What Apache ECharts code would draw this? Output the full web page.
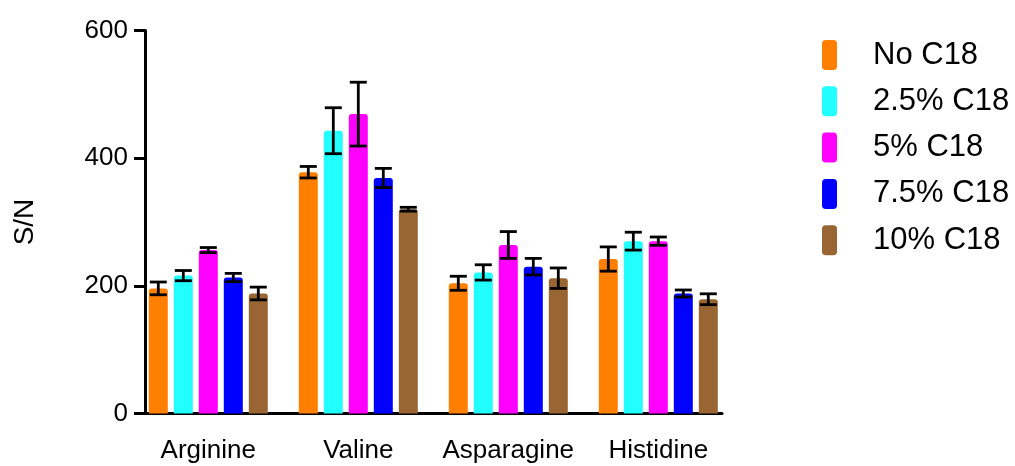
<!DOCTYPE html>
<html>
<head>
<meta charset="utf-8">
<script src="https://cdn.jsdelivr.net/npm/echarts@6/dist/echarts.min.js"></script>
<style>html,body{margin:0;padding:0;background:#fff}#c{width:1015px;height:466px}</style>
</head>
<body>
<div id="c"></div>
<script>
const categories = ['Arginine', 'Valine', 'Asparagine', 'Histidine'];
const seriesNames = ['No C18', '2.5% C18', '5% C18', '7.5% C18', '10% C18'];
const colors = ['#FF8000', '#22FFFF', '#FF00FF', '#0000FF', '#996633'];
const noC18 = [196, 378, 204, 242];
const noC18Err = [10, 9, 11, 19];
const c18_2_5 = [216, 443, 221, 270];
const c18_2_5Err = [8, 36, 12, 14];
const c18_5 = [256, 469, 264, 270];
const c18_5Err = [4, 50, 21, 6.5];
const c18_7_5 = [213, 369, 230, 188];
const c18_7_5Err = [6.5, 15, 13, 5.5];
const c18_10 = [188, 320, 212, 179];
const c18_10Err = [10, 3, 16, 8.5];
const yTicks = [0, 200, 400, 600];

const means = [noC18, c18_2_5, c18_5, c18_7_5, c18_10];
const errs = [noC18Err, c18_2_5Err, c18_5Err, c18_7_5Err, c18_10Err];

const BAR_W = 19, GAP = 6, CAP = 17;
const n = seriesNames.length;
const total = n * BAR_W + (n - 1) * GAP;
const offsets = seriesNames.map((_, i) => -total / 2 + BAR_W / 2 + i * (BAR_W + GAP));
const FONT = "'Liberation Sans', Arial, sans-serif";

function makeErr(si) {
  return function (params, api) {
    const x = api.value(0), m = api.value(1), e = api.value(2);
    const hi = api.coord([x, m + e]);
    const lo = api.coord([x, m - e]);
    const cx = hi[0] + offsets[si];
    const st = { stroke: '#000', lineWidth: 2.8 };
    return {
      type: 'group',
      children: [
        { type: 'line', shape: { x1: cx, y1: hi[1], x2: cx, y2: lo[1] }, style: st },
        { type: 'line', shape: { x1: cx - CAP / 2, y1: hi[1], x2: cx + CAP / 2, y2: hi[1] }, style: st },
        { type: 'line', shape: { x1: cx - CAP / 2, y1: lo[1], x2: cx + CAP / 2, y2: lo[1] }, style: st }
      ]
    };
  };
}

const series = [];
seriesNames.forEach((name, si) => {
  series.push({
    name: name, type: 'bar', xAxisIndex: 0, yAxisIndex: 0,
    data: means[si], barWidth: BAR_W, barGap: (GAP / BAR_W * 100) + '%',
    itemStyle: { color: colors[si], borderRadius: [3, 3, 0, 0] }
  });
});
seriesNames.forEach((name, si) => {
  series.push({
    name: name, type: 'custom', xAxisIndex: 0, yAxisIndex: 0, z: 5,
    renderItem: makeErr(si),
    encode: { x: 0, y: 1 },
    data: means[si].map((m, ci) => [ci, m, errs[si][ci]])
  });
});

const chart = echarts.init(document.getElementById('c'), null, { renderer: 'canvas' });
chart.setOption({
  animation: false,
  backgroundColor: '#fff',
  grid: [
    { left: 133.3, width: 600, top: 30.5, height: 383 },
    { left: 145, width: 577, top: 30.5, height: 383 }
  ],
  xAxis: [
    {
      type: 'category', gridIndex: 0, data: categories,
      axisLine: { show: false }, axisTick: { show: false },
      axisLabel: { color: '#000', fontSize: 26, fontFamily: FONT, margin: 24, interval: 0 }
    },
    {
      type: 'value', gridIndex: 1, min: 0, max: 1,
      axisLine: { show: true, lineStyle: { color: '#000', width: 3 } },
      axisTick: { show: false }, axisLabel: { show: false }, splitLine: { show: false }
    }
  ],
  yAxis: [
    {
      type: 'value', gridIndex: 0, min: 0, max: 600, interval: 200, show: false
    },
    {
      type: 'value', gridIndex: 1, min: yTicks[0], max: yTicks[yTicks.length - 1], interval: 200,
      name: 'S/N', nameLocation: 'middle', nameGap: 106, nameRotate: 90,
      nameTextStyle: { color: '#000', fontSize: 28, fontFamily: FONT },
      axisLine: { show: true, lineStyle: { color: '#000', width: 3 } },
      axisTick: { show: true, length: 11, lineStyle: { color: '#000', width: 3 } },
      axisLabel: { color: '#000', fontSize: 26, fontFamily: FONT, margin: 17 },
      splitLine: { show: false }
    }
  ],
  legend: {
    orient: 'vertical', left: 822, top: 39.5, padding: 0,
    itemWidth: 15, itemHeight: 30, itemGap: 15.3, icon: 'roundRect',
    data: seriesNames,
    textStyle: { color: '#000', fontSize: 31, lineHeight: 31, fontFamily: FONT, padding: [0, 0, 0, 31] }
  },
  series: series
});
</script>
</body>
</html>
